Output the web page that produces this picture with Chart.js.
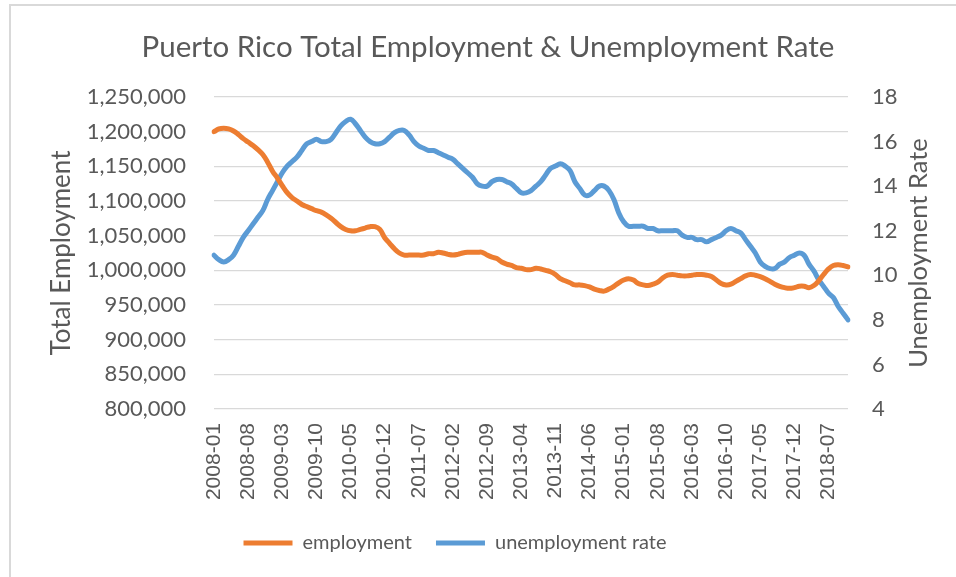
<!DOCTYPE html>
<html>
<head>
<meta charset="utf-8">
<title>Puerto Rico Total Employment & Unemployment Rate</title>
<script src="https://cdn.jsdelivr.net/npm/chart.js@4.4.1/dist/chart.umd.min.js"></script>
<style>
    html, body { margin: 0; padding: 0; background: #fff; overflow: hidden; }
    #wrap { position: relative; width: 956px; height: 577px; }
    #frame {
        position: absolute; left: 9px; top: 4px; right: -10px; bottom: -10px;
        border-top: 2px solid #d9d9d9; border-left: 2px solid #d9d9d9;
        pointer-events: none;
    }
    canvas { position: absolute; left: 0; top: 0; }
</style>
</head>
<body>
<div id="wrap">
    <canvas id="chart" width="956" height="577"></canvas>
    <div id="frame"></div>
</div>
<script>
// monthly series, 2008-01 .. 2018-11
const startYear = 2008;
const monthCount = 131;

const employment = [
    1200000, 1204000, 1205000, 1204000, 1201000, 1196000, 1190000, 1185000, 1180000, 1174000,
    1167000, 1156000, 1143000, 1133000, 1122000, 1112000, 1105000, 1100000, 1095000, 1092000,
    1089000, 1086000, 1084000, 1080000, 1075000, 1069000, 1063000, 1059000, 1057000, 1057000,
    1059000, 1061000, 1063000, 1063000, 1059000, 1047000, 1039000, 1031000, 1025000, 1022000,
    1022000, 1022000, 1022000, 1022000, 1024000, 1024000, 1026000, 1025000, 1023000, 1022000,
    1023000, 1025000, 1026000, 1026000, 1026000, 1026000, 1022000, 1019000, 1017000, 1012000,
    1009000, 1007000, 1004000, 1003000, 1001000, 1001000, 1003000, 1002000, 1000000, 998000,
    994000, 988000, 985000, 982000, 979000, 979000, 978000, 976000, 973000, 971000,
    970000, 973000, 977000, 982000, 986000, 988000, 986000, 981000, 979000, 978000,
    980000, 983000, 989000, 993000, 994000, 993000, 992000, 992000, 993000, 994000,
    994000, 993000, 991000, 986000, 981000, 979000, 980000, 984000, 988000, 992000,
    994000, 993000, 991000, 988000, 984000, 980000, 977000, 975000, 974000, 975000,
    977000, 977000, 975000, 978000, 985000, 994000, 1002000, 1007000, 1008000, 1007000,
    1005000
];

const unemploymentRate = [
    10.9, 10.7, 10.6, 10.7, 10.9, 11.3, 11.7, 12.0, 12.3, 12.6,
    12.9, 13.4, 13.8, 14.2, 14.6, 14.9, 15.1, 15.3, 15.6, 15.9,
    16.0, 16.1, 16.0, 16.0, 16.1, 16.4, 16.7, 16.9, 17.0, 16.8,
    16.5, 16.2, 16.0, 15.9, 15.9, 16.0, 16.2, 16.4, 16.5, 16.5,
    16.3, 16.0, 15.8, 15.7, 15.6, 15.6, 15.5, 15.4, 15.3, 15.2,
    15.0, 14.8, 14.6, 14.4, 14.1, 14.0, 14.0, 14.2, 14.3, 14.3,
    14.2, 14.1, 13.9, 13.7, 13.7, 13.8, 14.0, 14.2, 14.5, 14.8,
    14.9, 15.0, 14.9, 14.7, 14.2, 13.9, 13.6, 13.6, 13.8, 14.0,
    14.0, 13.8, 13.4, 12.8, 12.4, 12.2, 12.2, 12.2, 12.2, 12.1,
    12.1, 12.0, 12.0, 12.0, 12.0, 12.0, 11.8, 11.7, 11.7, 11.6,
    11.6, 11.5, 11.6, 11.7, 11.8, 12.0, 12.1, 12.0, 11.9, 11.6,
    11.3, 11.0, 10.6, 10.4, 10.3, 10.3, 10.5, 10.6, 10.8, 10.9,
    11.0, 10.9, 10.5, 10.2, 9.8, 9.5, 9.2, 9.0, 8.6, 8.3,
    8.0
];

const labelEvery = 7;

const months = [];
for (let i = 0; i < monthCount; i++) {
    const y = startYear + Math.floor(i / 12);
    const m = (i % 12) + 1;
    months.push(y + '-' + (m < 10 ? '0' + m : m));
}

const chartTitle = 'Puerto Rico Total Employment & Unemployment Rate';
const textColor = '#595959';
const gridColor = '#d9d9d9';
const orange = '#ed7d31';
const blue = '#5b9bd5';
const mainFont = 'Lato';

// title sits a little right of the canvas centre, the legend a little left,
// so the title is drawn here instead of by the title plugin
const headerText = {
    id: 'headerText',
    afterDraw(chart) {
        const { ctx } = chart;
        ctx.save();
        ctx.font = '29.5px ' + mainFont;
        ctx.fillStyle = textColor;
        ctx.textAlign = 'center';
        ctx.textBaseline = 'middle';
        ctx.fillText(chartTitle, 488, 47);
        ctx.restore();
    }
};

// the right axis title reads bottom-to-top like the left one
const rightAxisTitle = {
    id: 'rightAxisTitle',
    afterDraw(chart) {
        const { ctx, chartArea } = chart;
        ctx.save();
        ctx.translate(919, (chartArea.top + chartArea.bottom) / 2);
        ctx.rotate(-Math.PI / 2);
        ctx.font = '25.5px ' + mainFont;
        ctx.fillStyle = textColor;
        ctx.textAlign = 'center';
        ctx.textBaseline = 'middle';
        ctx.fillText('Unemployment Rate', 0, 0);
        ctx.restore();
    }
};

const ctx = document.getElementById('chart').getContext('2d');
new Chart(ctx, {
    type: 'line',
    data: {
        labels: months,
        datasets: [{
            label: 'employment',
            data: employment,
            yAxisID: 'y',
            borderColor: orange,
            backgroundColor: orange,
            borderWidth: 5,
            borderCapStyle: 'round',
            borderJoinStyle: 'round',
            pointRadius: 0,
            tension: 0.4
        }, {
            label: 'unemployment rate',
            data: unemploymentRate,
            yAxisID: 'y1',
            borderColor: blue,
            backgroundColor: blue,
            borderWidth: 5,
            borderCapStyle: 'round',
            borderJoinStyle: 'round',
            pointRadius: 0,
            tension: 0.4
        }]
    },
    options: {
        responsive: false,
        animation: false,
        layout: { padding: { left: 0, right: 46, top: 97, bottom: 14 } },
        plugins: {
            title: { display: false },
            legend: {
                position: 'bottom',
                labels: {
                    color: textColor,
                    font: { family: mainFont, size: 20 },
                    usePointStyle: true,
                    pointStyle: 'line',
                    pointStyleWidth: 49,
                    padding: 24
                }
            },
            tooltip: { enabled: false }
        },
        scales: {
            x: {
                grid: { display: false, drawTicks: false },
                border: { display: false },
                ticks: {
                    autoSkip: false,
                    minRotation: 90,
                    maxRotation: 90,
                    padding: 14,
                    color: textColor,
                    font: { family: 'Liberation Sans', size: 21 },
                    callback: function (value, index) {
                        return index % labelEvery === 0 ? this.getLabelForValue(value) : null;
                    }
                },
                afterFit: function (scale) { scale.height = 100; }
            },
            y: {
                position: 'left',
                min: 800000,
                max: 1250000,
                grid: { color: gridColor, lineWidth: 1.3, drawTicks: false },
                border: { display: false },
                ticks: {
                    stepSize: 50000,
                    padding: 28,
                    color: textColor,
                    font: { family: mainFont, size: 22 },
                    callback: value => value.toLocaleString('en-US')
                },
                title: {
                    display: true,
                    text: 'Total Employment',
                    color: textColor,
                    font: { family: mainFont, size: 26 },
                    padding: { top: 46, bottom: 0 }
                },
                afterFit: function (scale) { scale.width = 214; }
            },
            y1: {
                position: 'right',
                min: 4,
                max: 18,
                grid: { drawOnChartArea: false, drawTicks: false },
                border: { display: false },
                ticks: {
                    stepSize: 2,
                    padding: 24,
                    color: textColor,
                    font: { family: mainFont, size: 22 }
                },
                afterFit: function (scale) { scale.width = 62; }
            }
        }
    },
    plugins: [headerText, rightAxisTitle]
});
</script>
</body>
</html>
